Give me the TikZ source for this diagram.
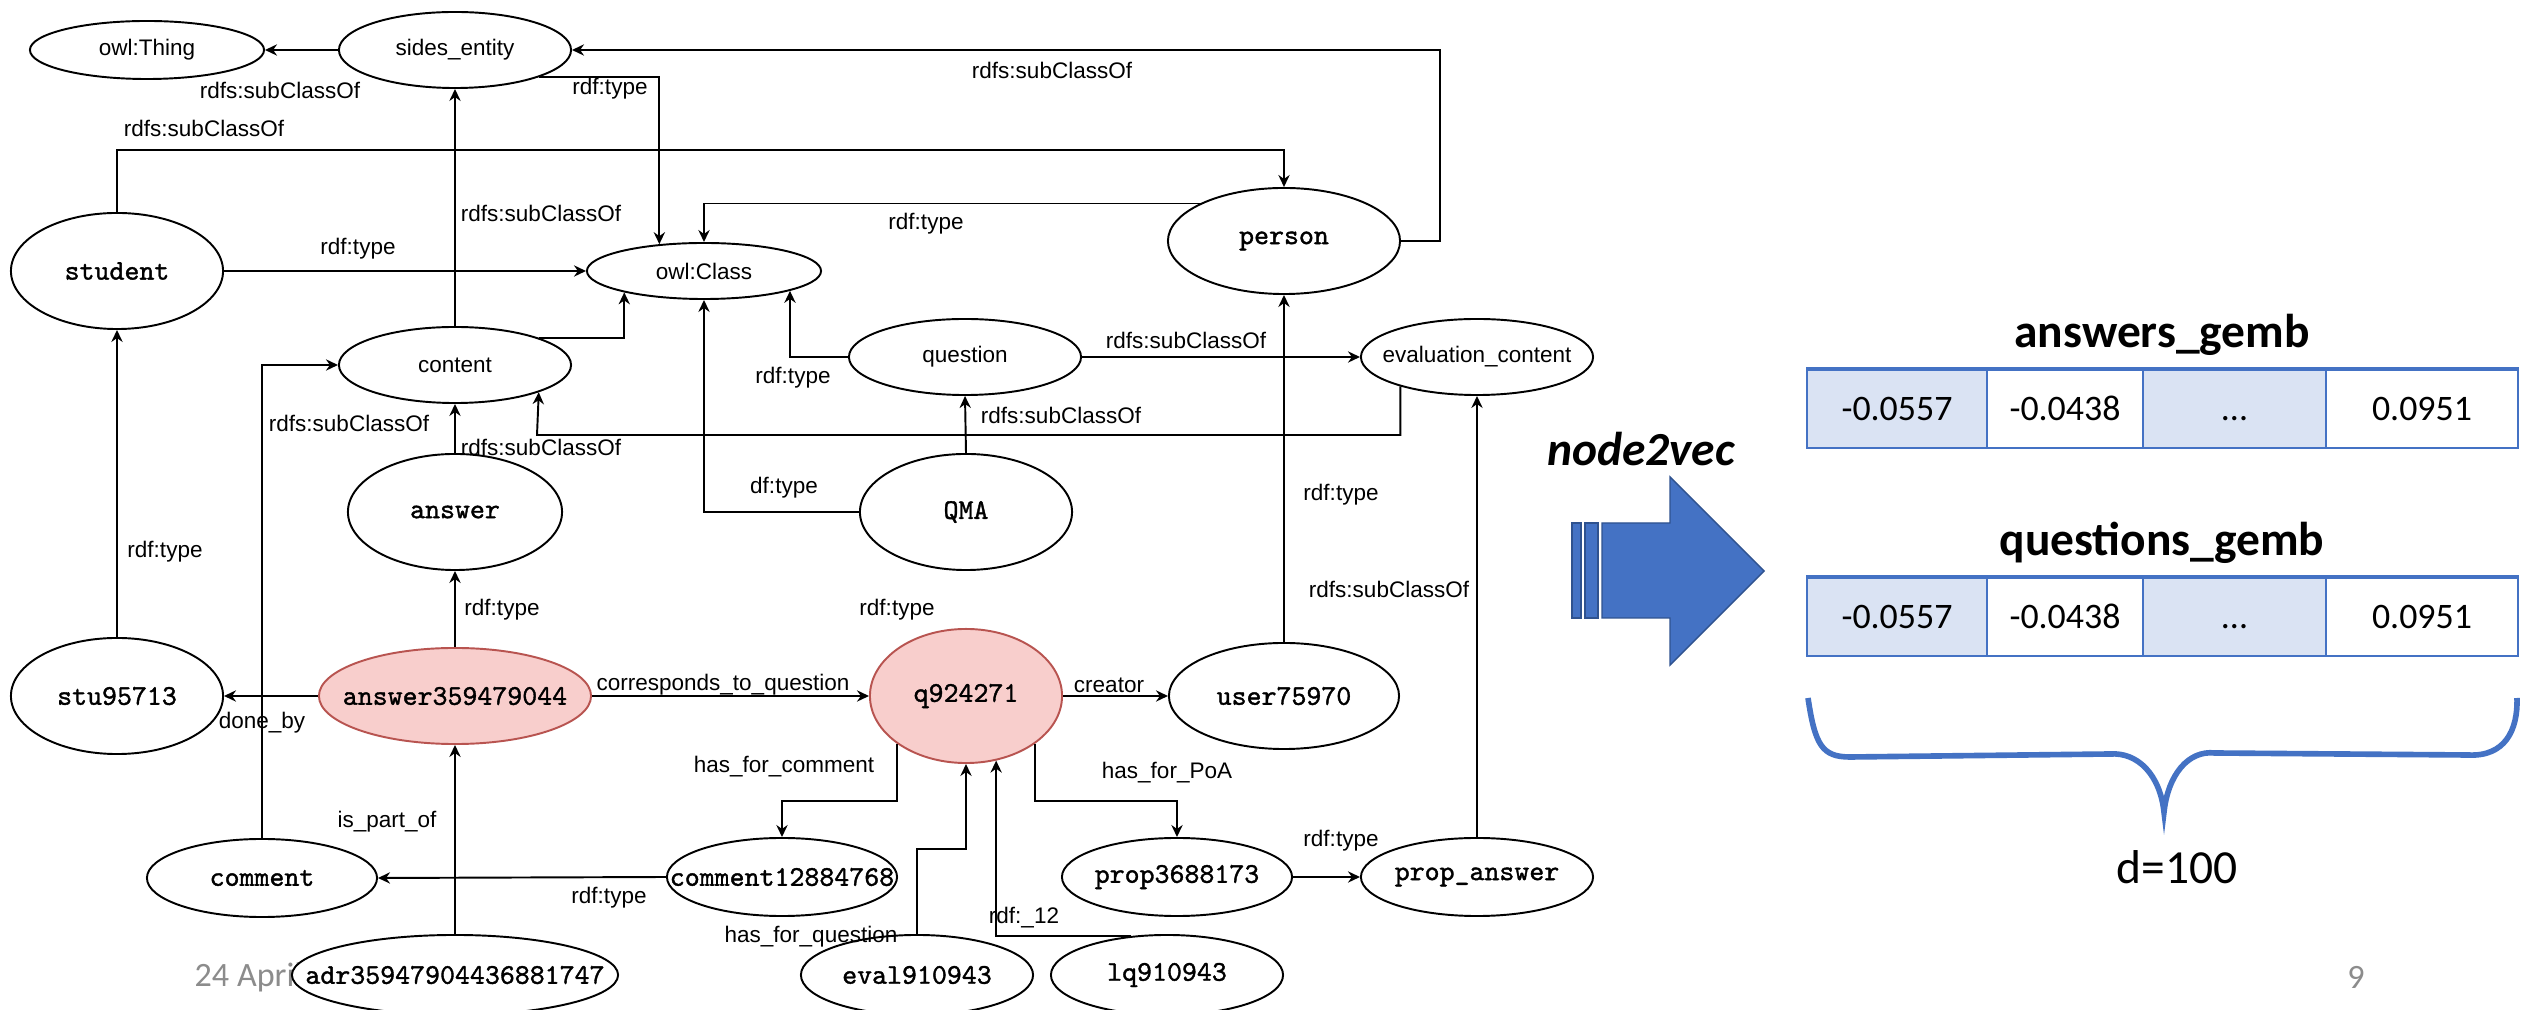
\documentclass[tikz,border=0pt]{standalone}
\usepackage{fontspec}
\setmainfont{Liberation Sans}
\newfontfamily\monofont[FakeBold=1.3]{lmmono10-regular.otf}
\newfontfamily\calfont{Carlito}
\usetikzlibrary{arrows.meta,shapes.geometric}

\definecolor{pinkfill}{HTML}{F8CECC}
\definecolor{pinkline}{HTML}{B85450}
\definecolor{officeblue}{HTML}{4472C4}
\definecolor{arrowedge}{HTML}{2F528F}
\definecolor{cellshade}{HTML}{DAE3F3}
\definecolor{footgray}{HTML}{8C8C8C}

% text of a fixed-size ellipse: takes no width, so the ellipse keeps its size
\newcommand{\nt}[1]{\makebox[0pt]{#1}}

\tikzset{
  ent/.style={ellipse, draw=black, line width=0.55pt, fill=white, inner sep=0pt,
              font=\fontsize{6.4}{7.5}\selectfont},
  ind/.style={ent, font=\monofont\fontsize{8.1}{9}\selectfont},
  hot/.style={ind, fill=pinkfill, draw=pinkline},
  oval/.style 2 args={minimum width=#1cm, minimum height=#2cm},
  rel/.style={inner sep=0pt, font=\fontsize{6.4}{7.5}\selectfont},
  link/.style={line width=0.55pt, -{Stealth[length=3.4pt,width=3.2pt]}},
  cell/.style={draw=officeblue, line width=0.5pt, inner sep=0pt, minimum height=0.78cm,
               text height=7.2pt, text depth=0.5pt,
               font=\calfont\fontsize{10.2}{12}\selectfont},
  shaded/.style={cell, fill=cellshade},
  blank/.style={cell, fill=white},
  title/.style={inner sep=0pt, font=\calfont\bfseries\fontsize{13.5}{16}\selectfont},
  foot/.style={inner sep=0pt, text=footgray, font=\calfont\fontsize{9.7}{12}\selectfont},
}

\begin{document}
\begin{tikzpicture}[x=0.01cm, y=-0.01cm]
\useasboundingbox (0,0) rectangle (2526,1010);
\fill[white] (0,0) rectangle (2526,1010);

% slide footer (partly hidden behind the graph)
\node[foot, anchor=west] (date) at (194,977) {24 April};
\node[foot] (page) at (2356,977) {9};

% ---- ontology graph: classes and individuals ----
\node[ent, oval={2.34}{0.58}] (owlthing) at (147,50) {\nt{owl:Thing}};
\node[ent, oval={2.32}{0.76}] (sides)    at (455,50) {\nt{sides\_entity}};
\node[ind, oval={2.12}{1.16}] (student)  at (117,271) {\nt{student}};
\node[ent, oval={2.34}{0.56}] (owlclass) at (704,271) {\nt{owl:Class}};
\node[ind, oval={2.32}{1.06}] (person)   at (1284,241) {\nt{person}};
\node[ent, oval={2.32}{0.76}] (content)  at (455,365) {\nt{content}};
\node[ent, oval={2.32}{0.76}] (question) at (965,357) {\nt{question}};
\node[ent, oval={2.32}{0.76}] (eval)     at (1477,357) {\nt{evaluation\_content}};
\node[ind, oval={2.14}{1.16}] (answer)   at (455,512) {\nt{answer}};
\node[ind, oval={2.12}{1.16}] (qma)      at (966,512) {\nt{QMA}};
\node[ind, oval={2.12}{1.16}] (stu)      at (117,696) {\nt{stu95713}};
\node[hot, oval={2.72}{0.96}] (a359)     at (455,696) {\nt{answer359479044}};
\node[hot, oval={1.92}{1.34}] (q)        at (966,696) {\nt{q924271}};
\node[ind, oval={2.30}{1.06}] (user)     at (1284,696) {\nt{user75970}};
\node[ind, oval={2.30}{0.78}] (comment)  at (262,878) {\nt{comment}};
\node[ind, oval={2.30}{0.78}] (c128)     at (782,877) {\nt{comment12884768}};
\node[ind, oval={2.30}{0.78}] (prop)     at (1177,877) {\nt{prop3688173}};
\node[ind, oval={2.32}{0.78}] (propans)  at (1477,877) {\nt{prop\_answer}};
\node[ind, oval={3.26}{0.80}] (adr)      at (455,975) {\nt{adr35947904436881747}};
\node[ind, oval={2.32}{0.80}] (ev9)      at (917,975) {\nt{eval910943}};
\node[ind, oval={2.32}{0.80}] (lq)       at (1167,975) {\nt{lq910943}};

% bend points of routed connectors
\coordinate (spbend)  at (117,150);
\coordinate (ecbend)  at (537,435);
\coordinate (hfcbend) at (782,801);
\coordinate (hfpbend) at (1177,801);
\coordinate (hfqbend) at (966,849);

% ---- connectors ----
\draw[link] (sides.west) -- (owlthing.east);
\draw[link] (person.east) -- ++(39,0) |- (sides.east);
\draw[link] (sides.-18) -| (owlclass.149);
\draw[link] (student.north) -- (spbend) -| (person.north);
\draw[link] (student.east) -- (owlclass.west);
\draw[link] (person.156) -| (owlclass.north);
\draw[link] (content.north) -- (sides.south);
\draw[link] (content.18) -| (owlclass.-165);
\draw[link] (qma.west) -| (owlclass.south);
\draw[link] (question.west) -| (owlclass.-13);
\draw[link] (question.east) -- (eval.west);
\draw[link] (eval.-159) |- (ecbend) -- (content.-18);
\draw[link] (answer.north) -- (content.south);
\draw[link] (qma.north) -- (question.south);
\draw[link] (user.north) -- (person.south);
\draw[link] (propans.north) -- (eval.south);
\draw[link] (stu.north) -- (student.south);
\draw[link] (a359.west) -- (stu.east);
\draw[link] (a359.north) -- (answer.south);
\draw[link] (comment.north) |- (content.west);
\draw[link] (a359.east) -- (q.west);
\draw[link] (q.east) -- (user.west);
\draw[link] (adr.north) -- (a359.south);
\draw[link] (c128.west) -- (comment.east);
\draw[link] (q.-145) |- (hfcbend) -- (c128.north);
\draw[link] (q.-35) |- (hfpbend) -- (prop.north);
\draw[link] (prop.east) -- (propans.west);
\draw[link] (ev9.north) |- (hfqbend) -- (q.south);
\draw[link] (lq.133) -| (q.-65);

% ---- relation labels ----
\node[rel] (l1)  at (280,90)   {rdfs:subClassOf};
\node[rel] (l2)  at (610,89)   {rdf:type};
\node[rel] (l3)  at (1052,70)  {rdfs:subClassOf};
\node[rel] (l4)  at (204,128)  {rdfs:subClassOf};
\node[rel] (l5)  at (358,249)  {rdf:type};
\node[rel] (l6)  at (541,213)  {rdfs:subClassOf};
\node[rel] (l7)  at (926,224)  {rdf:type};
\node[rel] (l8)  at (793,378)  {rdf:type};
\node[rel] (l9)  at (1186,340) {rdfs:subClassOf};
\node[rel] (l10) at (349,423)  {rdfs:subClassOf};
\node[rel] (l11) at (541,447)  {rdfs:subClassOf};
\node[rel] (l12) at (1061,415) {rdfs:subClassOf};
\node[rel] (l13) at (784,488)  {df:type};
\node[rel] (l14) at (1341,495) {rdf:type};
\node[rel] (l15) at (165,552)  {rdf:type};
\node[rel] (l16) at (1389,589) {rdfs:subClassOf};
\node[rel] (l17) at (502,610)  {rdf:type};
\node[rel] (l18) at (897,610)  {rdf:type};
\node[rel] (l19) at (723,685)  {corresponds\_to\_question};
\node[rel] (l20) at (1109,685) {creator};
\node[rel] (l21) at (262,723)  {done\_by};
\node[rel] (l22) at (784,767)  {has\_for\_comment};
\node[rel] (l23) at (1167,773) {has\_for\_PoA};
\node[rel] (l24) at (387,822)  {is\_part\_of};
\node[rel] (l25) at (1341,841) {rdf:type};
\node[rel] (l26) at (609,898)  {rdf:type};
\node[rel] (l27) at (1024,918) {rdf:\_12};
\node[rel] (l28) at (811,937)  {has\_for\_question};

% ---- node2vec block arrow ----
\node[inner sep=0pt, font=\calfont\bfseries\itshape\fontsize{13.5}{16}\selectfont] (n2v) at (1641,449) {node2vec};
\filldraw[fill=officeblue, draw=arrowedge, line width=0.4pt]
  (1602,523) -- (1670,523) -- (1670,477) -- (1764,571) -- (1670,665) -- (1670,618) -- (1602,618) -- cycle;
\filldraw[fill=officeblue, draw=arrowedge, line width=0.4pt] (1572,523) rectangle (1581,618);
\filldraw[fill=officeblue, draw=arrowedge, line width=0.4pt] (1585,523) rectangle (1598,618);

% ---- embedding vectors ----
\node[title] (atitle) at (2162,335) {answers\_gemb};
\node[shaded, minimum width=1.80cm] (a1) at (1897,409)   {-0.0557};
\node[blank,  minimum width=1.56cm] (a2) at (2065,409)   {-0.0438};
\node[shaded, minimum width=1.83cm] (a3) at (2234.5,409) {...};
\node[blank,  minimum width=1.92cm] (a4) at (2422,409)   {0.0951};
\draw[officeblue, line width=1.2pt] (a1.north west) -- (a4.north east);

\node[title] (qtitle) at (2162,543) {questions\_gemb};
\node[shaded, minimum width=1.80cm] (b1) at (1897,617)   {-0.0557};
\node[blank,  minimum width=1.56cm] (b2) at (2065,617)   {-0.0438};
\node[shaded, minimum width=1.83cm] (b3) at (2234.5,617) {...};
\node[blank,  minimum width=1.92cm] (b4) at (2422,617)   {0.0951};
\draw[officeblue, line width=1.2pt] (b1.north west) -- (b4.north east);

% ---- dimension brace ----
\draw[officeblue, line width=1.6pt]
  (1808,698) .. controls (1815,745) and (1822,757) .. (1850,757)
  -- (2110,754) .. controls (2138,752) and (2160,775) .. (2164,812)
  .. controls (2168,775) and (2188,750) .. (2215,753)
  -- (2468,755) .. controls (2505,757) and (2518,730) .. (2517,698);
\node[inner sep=0pt, font=\calfont\fontsize{13.5}{16}\selectfont] (dim) at (2177,867) {d=100};

\end{tikzpicture}
\end{document}
